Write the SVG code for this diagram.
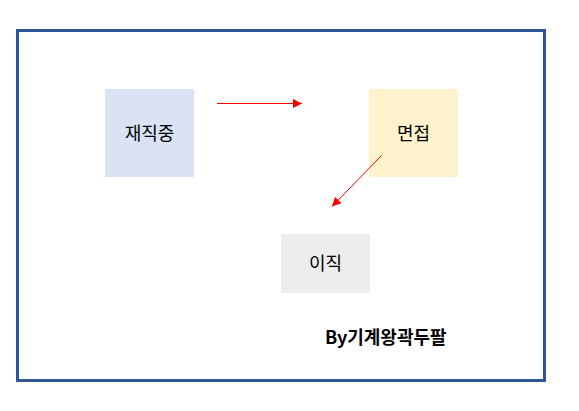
<svg xmlns="http://www.w3.org/2000/svg" width="579" height="411" viewBox="0 0 579 411">
<style>
.lbl{font-family:"Noto Sans CJK KR","Noto Sans",sans-serif;font-size:18px;fill:#000;text-anchor:middle}
.sig{font-family:"Noto Sans CJK KR","Noto Sans",sans-serif;font-size:18px;font-weight:bold;fill:#000}
.edge{stroke:#FF0000;stroke-width:1;fill:none;marker-end:url(#ah)}
</style>
<defs>
<marker id="ah" viewBox="0 0 10 10" refX="10" refY="5" markerWidth="11" markerHeight="9" markerUnits="userSpaceOnUse" orient="auto">
<path d="M0,0 L10,5 L0,10 z" fill="#FF0000"/>
</marker>
</defs>
<rect x="0" y="0" width="579" height="411" fill="#FFFFFF"/>
<rect x="17.5" y="30.5" width="527" height="350" fill="none" stroke="#2F5597" stroke-width="3"/>
<g id="node-working">
<rect x="105" y="89" width="89" height="88" fill="#DAE3F3"/>
<text class="lbl" x="149.5" y="139.5">재직중</text>
</g>
<g id="node-interview">
<rect x="369" y="89" width="89" height="88" fill="#FFF2CC"/>
<text class="lbl" x="413.5" y="139.5">면접</text>
</g>
<g id="node-change">
<rect x="281" y="234" width="89" height="59" fill="#EDEDED"/>
<text class="lbl" x="325.5" y="269.5">이직</text>
</g>
<g id="connectors">
<line class="edge" x1="217" y1="103.5" x2="302" y2="103.5"/>
<line class="edge" x1="381.5" y1="155.5" x2="332" y2="206.5"/>
</g>
<text class="sig" x="325" y="343.5">By기계왕곽두팔</text>
</svg>
